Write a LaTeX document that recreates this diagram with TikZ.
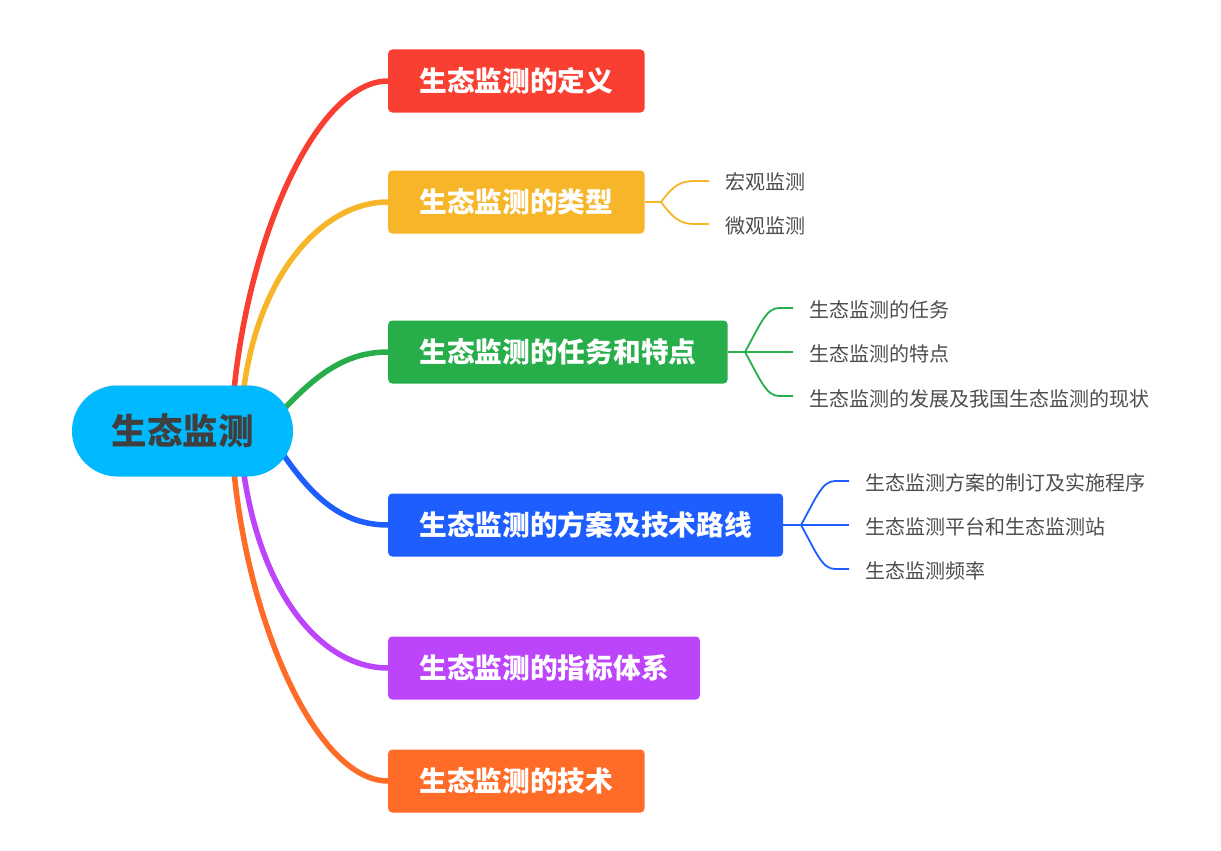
\documentclass[tikz,border=0pt]{standalone}
\usepackage{fontspec}
\setmainfont{Noto Sans CJK SC}
\usetikzlibrary{shapes.misc,backgrounds,calc,shadows}
\definecolor{cRoot}{HTML}{00B9FE}
\definecolor{cRootTxt}{HTML}{3F3F3F}
\definecolor{cRed}{HTML}{F93F31}
\definecolor{cYel}{HTML}{F7B52A}
\definecolor{cGrn}{HTML}{27AE4A}
\definecolor{cBlu}{HTML}{1E5EFF}
\definecolor{cPur}{HTML}{BC44FA}
\definecolor{cOra}{HTML}{FF6C27}
\definecolor{cSub}{HTML}{4D4D4D}
\tikzset{
  rootnode/.style={rounded rectangle, fill=cRoot, minimum width=221, minimum height=91,
    inner sep=0, text=cRootTxt, font=\fontsize{35.5}{40}\selectfont\bfseries,
    drop shadow={shadow xshift=0, shadow yshift=-1, opacity=0.15}},
  topic/.style={fill=#1, rounded corners=4, minimum height=63, inner xsep=31.2, inner ysep=0,
    anchor=west, text=white, font=\fontsize{27.7}{32}\selectfont\bfseries},
  subtxt/.style={anchor=west, inner sep=0, text=cSub, font=\fontsize{20}{22}\selectfont},
  mainline/.style={draw=#1, line width=5.5, line cap=round},
  subline/.style={draw=#1, line width=1.8},
}
\begin{document}
\begin{tikzpicture}[x=1pt,y=-1pt]
\useasboundingbox (0,0) rectangle (1221,851);
% topic boxes
\node[topic=cRed] (b1) at (388,81) {生态监测的定义};
\node[topic=cYel] (b2) at (388,202) {生态监测的类型};
\node[topic=cGrn] (b3) at (388,352) {生态监测的任务和特点};
\node[topic=cBlu] (b4) at (388,525) {生态监测的方案及技术路线};
\node[topic=cPur] (b5) at (388,668) {生态监测的指标体系};
\node[topic=cOra] (b6) at (388,781) {生态监测的技术};
% subtopics
\node[subtxt] (y1) at (725,182) {宏观监测};
\node[subtxt] (y2) at (725,226) {微观监测};
\node[subtxt] (g1) at (809,310) {生态监测的任务};
\node[subtxt] (g2) at (809,354) {生态监测的特点};
\node[subtxt] (g3) at (809,399) {生态监测的发展及我国生态监测的现状};
\node[subtxt] (u1) at (865,483) {生态监测方案的制订及实施程序};
\node[subtxt] (u2) at (865,527) {生态监测平台和生态监测站};
\node[subtxt] (u3) at (865,571) {生态监测频率};
% root
\node[rootnode] (root) at (182.5,431) {生态监测};
\begin{scope}[on background layer]
% main connectors
\draw[mainline=cRed] ($(root.center)+(51,-35)$) .. controls (248,235) and (318,81) .. (b1.west);
\draw[mainline=cYel] ($(root.center)+(61,-40)$) .. controls (258,275) and (322,202) .. (b2.west);
\draw[mainline=cGrn] ($(root.center)+(95,-15)$) .. controls (315,375) and (345,352) .. (b3.west);
\draw[mainline=cBlu] ($(root.center)+(95,15)$) .. controls (310,495) and (340,525) .. (b4.west);
\draw[mainline=cPur] ($(root.center)+(61,40)$) .. controls (261,595) and (322,668) .. (b5.west);
\draw[mainline=cOra] ($(root.center)+(51,35)$) .. controls (248,627) and (318,781) .. (b6.west);
% sub connectors
\coordinate (ys) at (661,202);
\coordinate (ye1) at (709,181);
\coordinate (ye2) at (709,224);
\draw[subline=cYel] (b2.east) -- (ys);
\draw[subline=cYel] (ys) .. controls (673,186) and (680,181) .. (694,181) -- (ye1);
\draw[subline=cYel] (ys) .. controls (673,218) and (680,224) .. (694,224) -- (ye2);
\coordinate (gs) at (745,352);
\coordinate (ge1) at (793,308);
\coordinate (ge2) at (793,352);
\coordinate (ge3) at (793,396);
\draw[subline=cGrn] (b3.east) -- (gs) -- (ge2);
\draw[subline=cGrn] (gs) .. controls (760,325) and (766,308) .. (779,308) -- (ge1);
\draw[subline=cGrn] (gs) .. controls (760,379) and (766,396) .. (779,396) -- (ge3);
\coordinate (us) at (801,525);
\coordinate (ue1) at (849,481);
\coordinate (ue2) at (849,525);
\coordinate (ue3) at (849,569);
\draw[subline=cBlu] (b4.east) -- (us) -- (ue2);
\draw[subline=cBlu] (us) .. controls (816,498) and (822,481) .. (835,481) -- (ue1);
\draw[subline=cBlu] (us) .. controls (816,552) and (822,569) .. (835,569) -- (ue3);
\end{scope}
\end{tikzpicture}
\end{document}
